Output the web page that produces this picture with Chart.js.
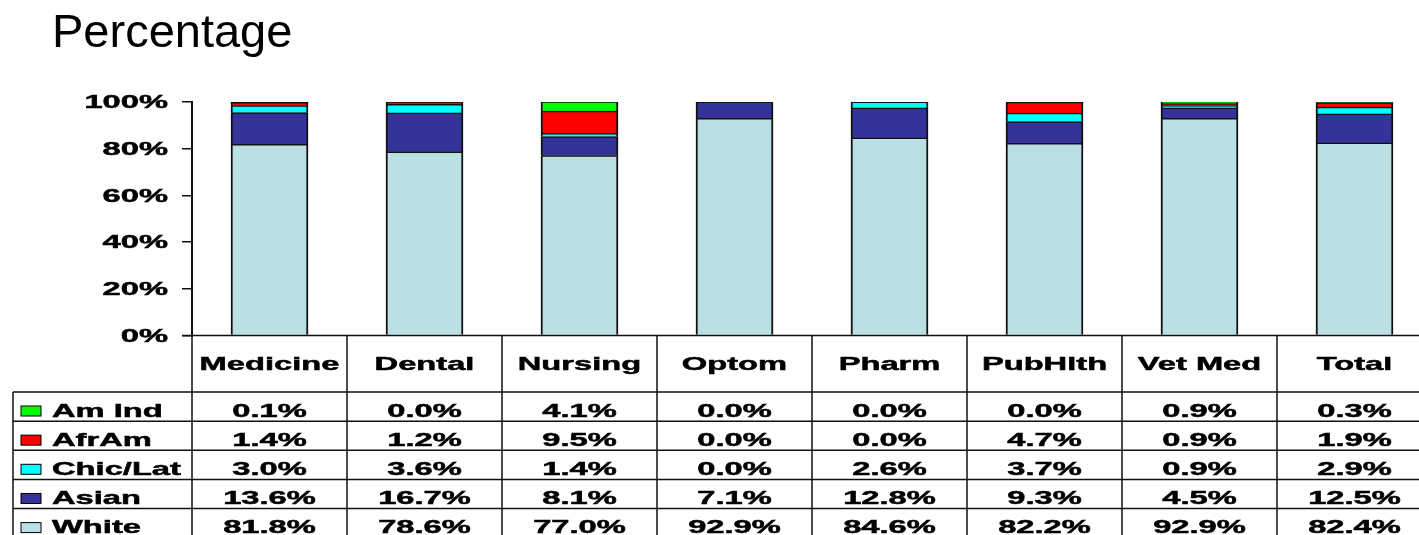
<!DOCTYPE html>
<html>
<head>
<meta charset="utf-8">
<title>Percentage</title>
<script src="https://cdn.jsdelivr.net/npm/chart.js@4/dist/chart.umd.min.js"></script>
<style>
    body { margin: 0; background: #fff; overflow: hidden; }
    #wrap { position: relative; width: 1440px; height: 535px; }
</style>
</head>
<body>
<div id="wrap"><canvas id="stackedPlot"></canvas></div>
<script>
var categories = ['Medicine', 'Dental', 'Nursing', 'Optom', 'Pharm', 'PubHlth', 'Vet Med', 'Total'];
var white = [81.8, 78.6, 77.0, 92.9, 84.6, 82.2, 92.9, 82.4];
var asian = [13.6, 16.7, 8.1, 7.1, 12.8, 9.3, 4.5, 12.5];
var chicLat = [3.0, 3.6, 1.4, 0.0, 2.6, 3.7, 0.9, 2.9];
var afrAm = [1.4, 1.2, 9.5, 0.0, 0.0, 4.7, 0.9, 1.9];
var amInd = [0.1, 0.0, 4.1, 0.0, 0.0, 0.0, 0.9, 0.3];
var seriesNames = ['White', 'Asian', 'Chic/Lat', 'AfrAm', 'Am Ind'];
var seriesColors = ['#BBE0E3', '#333399', '#00FFFF', '#FF0000', '#00FF00'];

// the slide squeezed everything but the title sideways, so text gets stretched
var textStretch = 1.72;
var boldFont = 'bold 19px "Liberation Sans", Arial, sans-serif';

function stretchText(ctx, text, x, y, align) {
    ctx.save();
    ctx.translate(x, y);
    ctx.scale(textStretch, 1);
    ctx.textAlign = align;
    ctx.lineWidth = 0.5;
    ctx.strokeStyle = ctx.fillStyle;
    ctx.fillText(text, 0, 0);
    ctx.strokeText(text, 0, 0);
    ctx.restore();
}

// Start of table plugin (title, y labels and data table under the bars)
var tablePlugin = {
    id: 'dataTable',
    afterDraw: function (chart) {
        var ctx = chart.ctx;
        var area = chart.chartArea;
        var xScale = chart.scales.x;
        var yScale = chart.scales.y;
        var colWidth = (area.right - area.left) / categories.length;
        var headTop = area.bottom;
        var headBottom = 392;
        var rowHeight = 29.15;
        var rows = chart.data.datasets.slice().reverse();

        ctx.save();
        ctx.fillStyle = '#000';
        ctx.textBaseline = 'alphabetic';

        // title
        ctx.font = '47px "Liberation Sans", Arial, sans-serif';
        ctx.textAlign = 'left';
        ctx.fillText('Percentage', 52, 47);

        // y labels
        ctx.font = boldFont;
        ctx.textBaseline = 'middle';
        yScale.ticks.forEach(function (t) {
            stretchText(ctx, t.value + '%', 168, yScale.getPixelForValue(t.value) + 1, 'right');
        });
        ctx.textBaseline = 'alphabetic';

        // grid lines
        ctx.strokeStyle = '#111';
        ctx.lineWidth = 1.5;
        ctx.beginPath();
        ctx.moveTo(182, headTop);
        ctx.lineTo(area.right, headTop);
        for (var r = 0; r <= rows.length; r++) {
            var ly = headBottom + r * rowHeight;
            ctx.moveTo(13, ly);
            ctx.lineTo(area.right, ly);
        }
        ctx.moveTo(13, headBottom);
        ctx.lineTo(13, chart.height);
        for (var c = 0; c <= categories.length; c++) {
            var lx = c < categories.length ? xScale.getPixelForValue(c) - colWidth / 2 : area.right;
            ctx.moveTo(lx, headTop);
            ctx.lineTo(lx, chart.height);
        }
        ctx.stroke();

        // header
        ctx.font = boldFont;
        categories.forEach(function (cat, i) {
            stretchText(ctx, cat, xScale.getPixelForValue(i), headTop + 34.5, 'center');
        });

        // rows
        rows.forEach(function (ds, r) {
            var top = headBottom + r * rowHeight;
            ctx.fillStyle = ds.backgroundColor;
            ctx.fillRect(21, top + 14, 20, 10);
            ctx.strokeStyle = '#000';
            ctx.lineWidth = 1;
            ctx.strokeRect(21, top + 14, 20, 10);
            ctx.fillStyle = '#000';
            stretchText(ctx, ds.label, 52, top + 24.7, 'left');
            ds.data.forEach(function (v, i) {
                stretchText(ctx, v.toFixed(1) + '%', xScale.getPixelForValue(i), top + 24.7, 'center');
            });
        });
        ctx.restore();
    }
};
// End of table plugin

var seriesData = [white, asian, chicLat, afrAm, amInd];
var datasets = [];
for (var s = 0; s < seriesData.length; s++) {
    datasets.push({
        label: seriesNames[s],
        data: seriesData[s],
        backgroundColor: seriesColors[s],
        borderColor: '#111',
        borderWidth: { top: 1.5, left: 2, right: 2, bottom: 0 },
        borderSkipped: 'start',
        inflateAmount: 0.5,
        barPercentage: 0.495,
        categoryPercentage: 1.0
    });
}

const stackedConfig = {
    type: 'bar',
    data: {
        labels: categories,
        datasets: datasets
    },
    options: {
        responsive: true,
        maintainAspectRatio: false,
        animation: false,
        layout: {
            padding: { top: 102, right: 8, bottom: 199.5, left: 0 }
        },
        plugins: {
            legend: { display: false },
            tooltip: { enabled: false }
        },
        scales: {
            x: {
                stacked: true,
                display: false
            },
            y: {
                stacked: true,
                min: 0,
                max: 100,
                ticks: { display: false, stepSize: 20 },
                grid: {
                    drawOnChartArea: false,
                    drawTicks: true,
                    tickLength: 10,
                    color: '#111',
                    lineWidth: 1.5
                },
                border: { display: true, color: '#111', width: 2 },
                afterFit: function (scale) {
                    scale.width = 192;
                }
            }
        }
    },
    plugins: [tablePlugin]
};

document.addEventListener('DOMContentLoaded', function () {
    const stackedChart = new Chart(document.getElementById('stackedPlot'), stackedConfig);
});
</script>
</body>
</html>
